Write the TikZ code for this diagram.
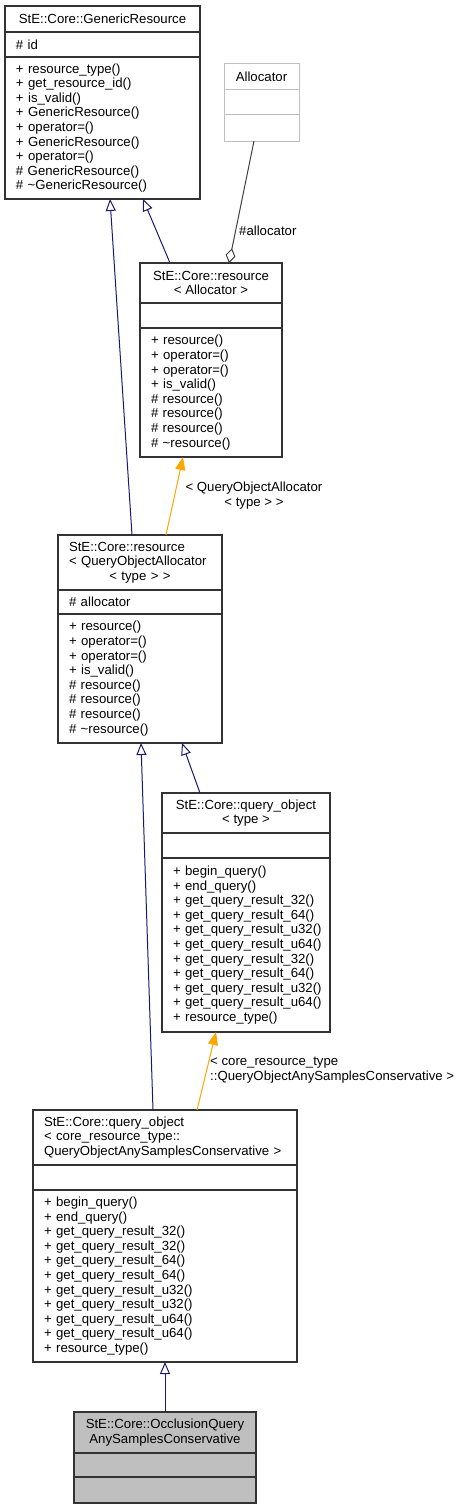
\documentclass[tikz,border=0pt]{standalone}
\usepackage{fontspec}
\newfontfamily\umlfont{Liberation Sans}
\usetikzlibrary{arrows.meta,positioning}
\definecolor{umlnavy}{HTML}{191970}
\definecolor{umlorange}{HTML}{FFA500}
\definecolor{umlgrey}{HTML}{BFBFBF}
\definecolor{umledge}{HTML}{404040}
\tikzset{
  umlpart/.style={draw=black!80,line width=1.1pt,inner xsep=11pt,inner ysep=0pt,outer sep=0pt,
    font={\umlfont\fontsize{13.2pt}{14.6pt}\selectfont}},
  umlhead/.style={umlpart,align=center,anchor=north west},
  umllist/.style={umlpart,align=left,anchor=north},
  umlghost/.style={draw=umlgrey,line width=1pt},
  umlleaf/.style={fill=umlgrey},
  arcinh/.style={-{Triangle[open,length=12pt,width=10pt]},umlnavy,line width=1pt},
  arctpl/.style={-{Triangle[length=13pt,width=10pt]},umlorange,line width=1pt},
  arcagg/.style={-{Diamond[open,length=15pt,width=10pt]},umledge,line width=1pt},
  umllab/.style={font={\umlfont\fontsize{13.2pt}{14.6pt}\selectfont},inner sep=0pt}
}

\begin{document}
\begin{tikzpicture}[x=1pt,y=-1pt]
  \useasboundingbox (0,0) rectangle (465,1509);
  % GenericResource
  \node[umlhead,minimum width=195pt,minimum height=26pt] (gr) at (5,6) {StE::Core::GenericResource};
  \node[umllist,text width=173pt,minimum height=25pt,below=0pt of gr] (gr-a) {\#~id};
  \node[umllist,text width=173pt,minimum height=142pt,below=0pt of gr-a] (gr-m) {+~resource\_type()\\+~get\_resource\_id()\\+~is\_valid()\\+~GenericResource()\\+~operator=()\\+~GenericResource()\\+~operator=()\\\#~GenericResource()\\\#~\textasciitilde GenericResource()};
  % Allocator
  \node[umlhead,umlghost,minimum width=75pt,minimum height=26pt] (al) at (224,64) {Allocator};
  \node[umllist,umlghost,text width=53pt,minimum height=25pt,below=0pt of al] (al-a) {};
  \node[umllist,umlghost,text width=53pt,minimum height=26pt,below=0pt of al-a] (al-m) {};
  % resource< Allocator >
  \node[umlhead,minimum width=142pt,minimum height=40pt] (ra) at (140,263) {StE::Core::resource\\< Allocator >};
  \node[umllist,text width=120pt,minimum height=25pt,below=0pt of ra] (ra-a) {};
  \node[umllist,text width=120pt,minimum height=129pt,below=0pt of ra-a] (ra-m) {+~resource()\\+~operator=()\\+~operator=()\\+~is\_valid()\\\#~resource()\\\#~resource()\\\#~resource()\\\#~\textasciitilde resource()};
  % resource< QueryObjectAllocator< type > >
  \node[umlhead,align=left,text width=142pt,minimum height=55pt] (rq) at (58,535) {StE::Core::resource\\<~QueryObjectAllocator\\\makebox[142pt]{<~type~>~>}};
  \node[umllist,text width=142pt,minimum height=24pt,below=0pt of rq] (rq-a) {\#~allocator};
  \node[umllist,text width=142pt,minimum height=129pt,below=0pt of rq-a] (rq-m) {+~resource()\\+~operator=()\\+~operator=()\\+~is\_valid()\\\#~resource()\\\#~resource()\\\#~resource()\\\#~\textasciitilde resource()};
  % query_object< type >
  \node[umlhead,minimum width=168pt,minimum height=40pt] (qt) at (162,793) {StE::Core::query\_object\\< type >};
  \node[umllist,text width=146pt,minimum height=25pt,below=0pt of qt] (qt-a) {};
  \node[umllist,text width=146pt,minimum height=174pt,below=0pt of qt-a] (qt-m) {+~begin\_query()\\+~end\_query()\\+~get\_query\_result\_32()\\+~get\_query\_result\_64()\\+~get\_query\_result\_u32()\\+~get\_query\_result\_u64()\\+~get\_query\_result\_32()\\+~get\_query\_result\_64()\\+~get\_query\_result\_u32()\\+~get\_query\_result\_u64()\\+~resource\_type()};
  % query_object< core_resource_type::QueryObjectAnySamplesConservative >
  \node[umlhead,align=left,text width=242pt,minimum height=55pt] (qc) at (33,1110) {StE::Core::query\_object\\<~core\_resource\_type::\\QueryObjectAnySamplesConservative~>};
  \node[umllist,text width=242pt,minimum height=25pt,below=0pt of qc] (qc-a) {};
  \node[umllist,text width=242pt,minimum height=172pt,below=0pt of qc-a] (qc-m) {+~begin\_query()\\+~end\_query()\\+~get\_query\_result\_32()\\+~get\_query\_result\_32()\\+~get\_query\_result\_64()\\+~get\_query\_result\_64()\\+~get\_query\_result\_u32()\\+~get\_query\_result\_u32()\\+~get\_query\_result\_u64()\\+~get\_query\_result\_u64()\\+~resource\_type()};
  % OcclusionQueryAnySamplesConservative
  \node[umlhead,umlleaf,minimum width=182pt,minimum height=41pt] (oq) at (74,1412) {StE::Core::OcclusionQuery\\AnySamplesConservative};
  \node[umllist,umlleaf,text width=160pt,minimum height=24pt,below=0pt of oq] (oq-a) {};
  \node[umllist,umlleaf,text width=160pt,minimum height=26pt,below=0pt of oq-a] (oq-m) {};

  \draw[arcinh] ([xshift=30pt]ra.north west) -- ([xshift=138pt]gr-m.south west);
  \draw[arcinh] ([xshift=74pt]rq.north west) -- ([xshift=105pt]gr-m.south west);
  \draw[arcagg] ([xshift=30pt]al-m.south west) -- ([xshift=89pt]ra.north west);
  \draw[arctpl] ([xshift=108pt]rq.north west) -- ([xshift=43pt]ra-m.south west);
  \draw[arcinh] ([xshift=38pt]qt.north west) -- ([xshift=124pt]rq-m.south west);
  \draw[arcinh] ([xshift=120pt]qc.north west) -- ([xshift=83pt]rq-m.south west);
  \draw[arctpl] ([xshift=164pt]qc.north west) -- ([xshift=54pt]qt-m.south west);
  \draw[arcinh] (oq.north) -- (qc-m.south);
  \node[umllab,anchor=west] (lab-al) at (239,231) {\#allocator};
  \node[umllab,align=center] (lab-qa) at (254,495.5) {< QueryObjectAllocator\\< type > >};
  \node[umllab,align=left,anchor=west] (lab-qc) at (210,1070) {< core\_resource\_type\\::QueryObjectAnySamplesConservative >};
\end{tikzpicture}
\end{document}
